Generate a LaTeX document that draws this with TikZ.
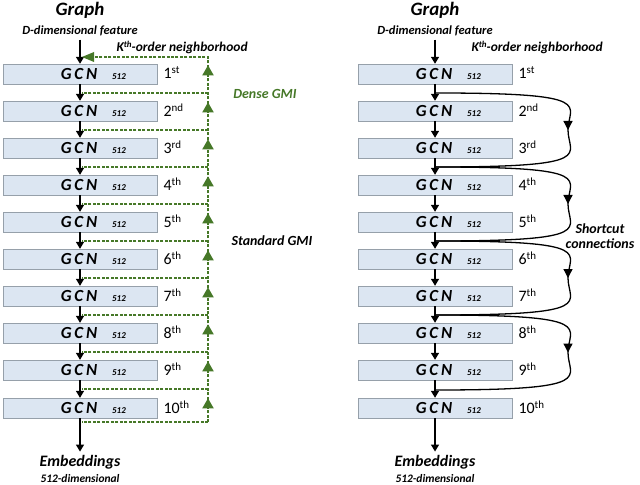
\documentclass[tikz,border=0pt]{standalone}
\usepackage{fontspec}
\setmainfont{Carlito}
\usetikzlibrary{arrows.meta,decorations.markings,shapes.geometric}
\definecolor{boxfill}{RGB}{220,230,242}
\definecolor{boxdraw}{RGB}{150,160,170}
\definecolor{gmi}{RGB}{70,120,40}
\begin{document}
\begin{tikzpicture}[x=1bp,y=-1bp,
 gcn/.style={draw=boxdraw,fill=boxfill,minimum width=154bp,minimum height=20bp,inner sep=0pt,font=\bfseries\itshape\fontsize{17}{17}\selectfont},
 ord/.style={anchor=west,font=\fontsize{16}{16}\selectfont},
 lab/.style={font=\bfseries\itshape\fontsize{12.5}{13}\selectfont},
 flow/.style={-{Triangle[length=7bp,width=8bp]},line width=1.3pt},
 gd/.style={gmi,line width=1.3pt,dash pattern=on 3pt off 1.5pt},
 tri/.style={gmi,fill=gmi,isosceles triangle,shape border rotate=90,minimum width=9bp,minimum height=10bp,inner sep=0pt,isosceles triangle apex angle=60},
 sc/.style={line width=1.3pt,postaction={decorate},decoration={markings,mark=at position 0.5 with {\arrow{Triangle[length=9bp,width=9bp]}}}}]
\useasboundingbox (0,0) rectangle (640,485);
\def\ords{{"st","nd","rd","th","th","th","th","th","th","th"}}
\foreach \side/\cx in {L/80,R/435}{
 \node[lab,font=\bfseries\itshape\fontsize{19}{19}\selectfont] (g\side) at (\cx,10) {Graph};
 \node[lab] (d\side) at (\cx,31) {D-dimensional feature};
 \foreach \i in {1,...,10}{
  \pgfmathsetmacro\yy{74+37*(\i-1)+(\i==10?1:0)}
  \node[gcn] (\side\i) at (\cx,\yy) {\hspace*{-2bp}\makebox[0pt]{G\,C\,N}\hspace{40bp}\makebox[0pt]{\fontsize{9}{9}\selectfont 512}\hspace*{-40bp}};
  \pgfmathparse{\ords[\i-1]}\edef\oo{\pgfmathresult}
  \node[ord] (o\side\i) at (\cx+80,\yy-1) {\i\raisebox{5bp}{\fontsize{11}{11}\selectfont\oo}};
 }
 \node[lab,font=\bfseries\itshape\fontsize{16}{16}\selectfont] (e\side) at (\cx,462) {Embeddings};
 \node[lab,font=\bfseries\itshape\fontsize{11.5}{12}\selectfont] (m\side) at (\cx,479) {512-dimensional};
 \draw[flow] (d\side.south) -- (\side1.north);
 \foreach \i [evaluate=\i as \j using int(\i+1)] in {1,...,9} \draw[flow] (\side\i.south) -- (\side\j.north);
 \draw[flow] (\side10.south) -- (e\side.north);
}
\node[lab,anchor=west,font=\bfseries\itshape\fontsize{13.5}{14}\selectfont] (kL) at (113,47) {K\raisebox{4bp}{\fontsize{9}{9}\selectfont th}-order neighborhood};
\node[lab,anchor=west,font=\bfseries\itshape\fontsize{13.5}{14}\selectfont] (kR) at (468,47) {K\raisebox{4bp}{\fontsize{9}{9}\selectfont th}-order neighborhood};
% green dense GMI
\coordinate (gt) at (208,57);
\coordinate (gb) at (208,422);
\draw[gd] (gb) -- (gt) -- (84,57);
\fill[gmi] (82,57) -- (94,52) -- (94,62) -- cycle;
\foreach \i [evaluate=\i as \y using 93+37*(\i-1)] in {1,...,9}{
 \coordinate (h\i) at (208,\y);
 \draw[gd] (h\i) -- (82,\y);
}
\draw[gd] (gb) -- (82,422);
\foreach \i in {1,...,10}{
 \node[tri] (t\i) at (208,{72+37*(\i-1)}) {};
}
\node[lab,text=gmi,font=\bfseries\itshape\fontsize{14}{14}\selectfont] (dg) at (265,94) {Dense GMI};
\node[lab,font=\bfseries\itshape\fontsize{14}{14}\selectfont] (sg) at (272,241) {Standard GMI};
% shortcuts
\foreach \a/\b in {93/167,167/241,241/315,315/390}{
 \draw[sc] (436,\a) .. controls (600,\a) and (568,{(\a+\b)/2-25}) .. (568,{(\a+\b)/2}) .. controls (568,{(\a+\b)/2+25}) and (600,\b) .. (436,\b);
}
\node[lab,font=\bfseries\itshape\fontsize{14}{15}\selectfont,align=center] (scl) at (600,236) {Shortcut\\connections};
\end{tikzpicture}
\end{document}
